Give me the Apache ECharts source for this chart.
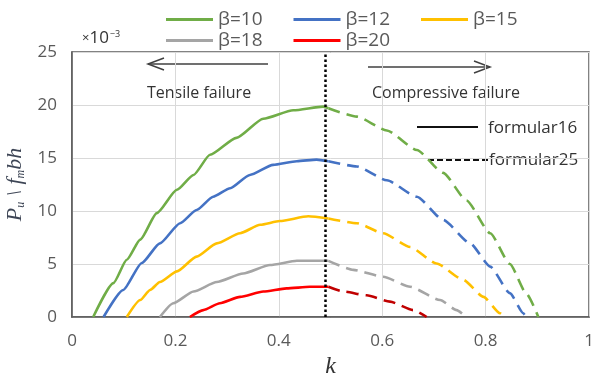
<!DOCTYPE html>
<html><head><meta charset="utf-8">
<script src="https://cdn.jsdelivr.net/npm/echarts@6/dist/echarts.min.js"></script>
<style>html,body{margin:0;padding:0;background:#fff}#c{width:598px;height:374px}</style>
</head><body><div id="c"></div>
<script>
// ---- data ----
const betaNames = ['β=10', 'β=12', 'β=15', 'β=18', 'β=20'];
const xTicks = [0, 0.2, 0.4, 0.6, 0.8, 1];
const yTicks = [0, 5, 10, 15, 20, 25];
const boundaryK = [0.495];

// formular16 (solid, tensile side)  [k, Pu/fm bh x1e-3]
const b10Solid = [[0.041,0],[0.080,3.2],[0.106,5.4],[0.132,7.3],[0.164,9.8],[0.203,12.0],[0.235,13.4],[0.267,15.3],[0.318,16.9],[0.370,18.7],[0.428,19.5],[0.486,19.85],[0.496,19.7]];
const b12Solid = [[0.061,0],[0.099,2.55],[0.135,5.1],[0.170,6.95],[0.209,8.85],[0.241,10.1],[0.273,11.35],[0.306,12.15],[0.344,13.4],[0.389,14.35],[0.435,14.7],[0.473,14.85],[0.496,14.7]];
const b15Solid = [[0.106,0],[0.132,1.6],[0.151,2.55],[0.170,3.3],[0.203,4.3],[0.241,5.7],[0.280,6.95],[0.325,7.9],[0.364,8.7],[0.402,9.05],[0.457,9.5],[0.496,9.3]];
const b18Solid = [[0.170,0],[0.196,1.3],[0.235,2.4],[0.280,3.3],[0.331,4.1],[0.383,4.9],[0.435,5.3],[0.467,5.3],[0.496,5.3]];
const b20Solid = [[0.228,0],[0.254,0.65],[0.286,1.3],[0.325,1.9],[0.370,2.4],[0.415,2.7],[0.460,2.85],[0.496,2.85]];

// formular25 (dashed, compressive side)
const b10Dash = [[0.496,19.7],[0.551,18.9],[0.609,17.6],[0.667,15.75],[0.718,13.6],[0.763,11.0],[0.809,7.9],[0.847,5.0],[0.879,2.2],[0.902,0]];
const b12Dash = [[0.496,14.7],[0.551,14.2],[0.609,12.9],[0.667,11.35],[0.718,9.15],[0.770,6.95],[0.809,4.75],[0.847,2.25],[0.873,0.35],[0.878,0]];
const b15Dash = [[0.496,9.3],[0.551,8.85],[0.602,7.9],[0.654,6.6],[0.705,5.05],[0.757,3.5],[0.796,1.9],[0.828,0.35],[0.836,0]];
const b18Dash = [[0.496,5.3],[0.544,4.45],[0.602,3.8],[0.654,2.85],[0.712,1.6],[0.744,0.65],[0.762,0]];
const b20Dash = [[0.496,2.85],[0.525,2.4],[0.570,2.05],[0.615,1.45],[0.660,0.65],[0.686,0]];

const solidData = [b10Solid, b12Solid, b15Solid, b18Solid, b20Solid];
const dashData = [b10Dash, b12Dash, b15Dash, b18Dash, b20Dash];

// ---- styles ----
const solidColors = ['#70AD47', '#4472C4', '#FFC000', '#A5A5A5', '#FF0000'];
const dashColors = ['#70AD47', '#4472C4', '#FFC000', '#A5A5A5', '#C00000'];
const FONT = 'Open Sans';
const TXT = '#595959';

const series = [];
betaNames.forEach((n, i) => {
  series.push({
    name: n, type: 'line', data: solidData[i], symbol: 'none', smooth: 0.2, smoothMonotone: 'x',
    lineStyle: { color: solidColors[i], width: 2.6 }, itemStyle: { color: solidColors[i] }, z: 3
  });
});
betaNames.forEach((n, i) => {
  series.push({
    name: n, type: 'line', data: dashData[i], symbol: 'none', smooth: 0.2, smoothMonotone: 'x',
    lineStyle: { color: dashColors[i], width: 2.6, type: [12, 7] }, itemStyle: { color: dashColors[i] }, z: 3
  });
});
series[0].markLine = {
  silent: true, symbol: 'none', label: { show: false },
  lineStyle: { color: '#000', type: [2.5, 2.5], width: 2.5 },
  data: boundaryK.map(v => ({ xAxis: v }))
};

const legendCommon = {
  icon: 'rect', itemWidth: 47, itemHeight: 3, itemGap: 31, selectedMode: false,
  textStyle: { fontFamily: FONT, fontSize: 19, color: TXT }
};

const chart = echarts.init(document.getElementById('c'), null, { renderer: 'canvas' });
chart.setOption({
  animation: false,
  backgroundColor: '#fff',
  grid: { left: 72, right: 9, top: 52, bottom: 57, show: true, borderColor: '#595959', borderWidth: 1.5, outerBoundsMode: 'none', containLabel: false },
  legend: [
    Object.assign({ data: betaNames.slice(0, 3), left: 161, top: 5 }, legendCommon),
    Object.assign({ data: betaNames.slice(3), left: 161, top: 26 }, legendCommon)
  ],
  xAxis: {
    type: 'value', min: xTicks[0], max: xTicks[xTicks.length - 1], interval: xTicks[1] - xTicks[0],
    name: 'k', nameLocation: 'middle', nameGap: 28,
    nameTextStyle: { fontFamily: 'Liberation Serif', fontStyle: 'italic', fontSize: 24, color: '#333' },
    axisLine: { show: true, lineStyle: { color: '#595959', width: 1.5 } },
    axisTick: { show: false },
    axisLabel: { fontFamily: FONT, fontSize: 17, color: TXT, margin: 16 },
    splitLine: { show: true, lineStyle: { color: '#d9d9d9', width: 1 } }
  },
  yAxis: {
    type: 'value', min: yTicks[0], max: yTicks[yTicks.length - 1], interval: yTicks[1] - yTicks[0],
    name: '{p|P}{s|u}{p| \\ f}{s|m}{p|bh}', nameLocation: 'middle', nameGap: 38, nameRotate: 90,
    nameTextStyle: {
      rich: {
        p: { fontFamily: 'Liberation Serif', fontStyle: 'italic', fontSize: 22, color: '#3d4555' },
        s: { fontFamily: 'Liberation Serif', fontStyle: 'italic', fontSize: 12, color: '#3d4555', verticalAlign: 'bottom' }
      }
    },
    axisLine: { show: true, lineStyle: { color: '#595959', width: 1.5 } },
    axisTick: { show: false },
    axisLabel: { fontFamily: FONT, fontSize: 17, color: TXT, margin: 15 },
    splitLine: { show: true, lineStyle: { color: '#d9d9d9', width: 1 } }
  },
  graphic: [
    { type: 'text', x: 82, y: 38, style: {
        text: '{a|×}{b|10}{c|−3}', verticalAlign: 'middle',
        rich: {
          a: { font: '13px "Open Sans"', fill: '#333' },
          b: { font: '17px "Open Sans"', fill: '#333' },
          c: { font: '9px "Open Sans"', fill: '#333', verticalAlign: 'top', padding: [0, 0, 8, 1] }
        } } },
    // tensile arrow
    { type: 'polyline', shape: { points: [[268, 64], [148, 64]] }, style: { stroke: '#404040', lineWidth: 1.5 } },
    { type: 'polyline', shape: { points: [[164, 58], [148, 64], [164, 70]] }, style: { stroke: '#404040', lineWidth: 1.5, fill: null } },
    { type: 'text', x: 147, y: 93, style: { text: 'Tensile failure', font: '16px "Open Sans"', fill: '#333', verticalAlign: 'middle' } },
    // compressive arrow
    { type: 'polyline', shape: { points: [[368, 67], [490, 67]] }, style: { stroke: '#404040', lineWidth: 1.5 } },
    { type: 'polyline', shape: { points: [[474, 61], [490, 67], [474, 73]] }, style: { stroke: '#404040', lineWidth: 1.5, fill: null } },
    { type: 'text', x: 372, y: 93, style: { text: 'Compressive failure', font: '16px "Open Sans"', fill: '#333', verticalAlign: 'middle' } },
    // formula legend
    { type: 'line', shape: { x1: 417, y1: 127, x2: 478, y2: 127 }, style: { stroke: '#111', lineWidth: 2 } },
    { type: 'text', x: 488, y: 128, style: { text: 'formular16', font: '17px "Open Sans"', fill: '#333', verticalAlign: 'middle' } },
    { type: 'line', shape: { x1: 428, y1: 160, x2: 488, y2: 160 }, style: { stroke: '#111', lineWidth: 2, lineDash: [6, 3] } },
    { type: 'text', x: 489, y: 160, style: { text: 'formular25', font: '17px "Open Sans"', fill: '#333', verticalAlign: 'middle' } }
  ],
  series: series
});
</script></body></html>
